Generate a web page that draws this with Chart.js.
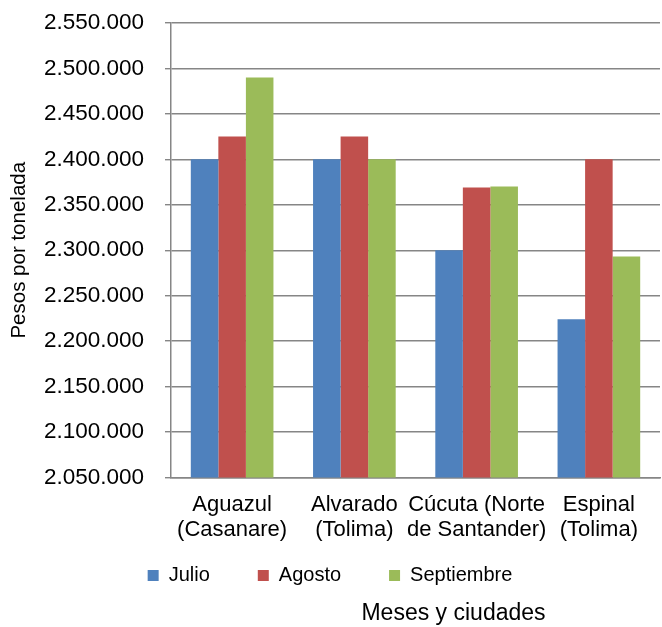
<html>
  <head>
    <meta charset="utf-8" />
    <script src="https://cdn.jsdelivr.net/npm/chart.js"></script>
    <style>
      body {
        margin: 0;
        background: #fff;
      }
      #wrap {
        width: 662px;
        height: 627px;
        position: relative;
      }
    </style>
  </head>
  <body>
    <div id="wrap">
      <canvas id="precio_chart"></canvas>
    </div>
    <script>
      // Ciudades (eje x), en dos lineas como en el original
      const ciudades = [
        ["Aguazul", "(Casanare)"],
        ["Alvarado", "(Tolima)"],
        ["Cúcuta (Norte", "de Santander)"],
        ["Espinal", "(Tolima)"],
      ];

      // Pesos por tonelada, por mes
      const julio = [2400000, 2400000, 2300000, 2224000];
      const agosto = [2425000, 2425000, 2369000, 2400000];
      const septiembre = [2490000, 2400000, 2370000, 2293000];

      // Eje y
      const y_min = 2050000;
      const y_max = 2550000;
      const y_step = 50000;

      // Formato con puntos de miles (2.550.000)
      function miles(v) {
        return String(v).replace(/\B(?=(\d{3})+(?!\d))/g, ".");
      }

      Chart.defaults.font.family = "'Liberation Sans', Arial, sans-serif";
      Chart.defaults.color = "#000";

      const gris = "#868686";

      // Ajustes de posicion: la leyenda empieza antes (su espaciado
      // ancho deja mucho hueco arriba) y el titulo del eje x va debajo
      // de la leyenda, algo a la derecha
      const ajustar_cajas = {
        id: "ajustar_cajas",
        afterLayout(chart) {
          const t = chart.titleBlock;
          if (t) {
            t.left += 38;
            t.right += 38;
          }
          const l = chart.legend;
          if (l) {
            l.top -= 40;
          }
        },
      };

      const precio_chart = new Chart("precio_chart", {
        type: "bar",
        data: {
          labels: ciudades,
          datasets: [
            { label: "Julio", data: julio, backgroundColor: "#4F81BD" },
            { label: "Agosto", data: agosto, backgroundColor: "#C0504D" },
            { label: "Septiembre", data: septiembre, backgroundColor: "#9BBB59" },
          ],
        },
        plugins: [ajustar_cajas],
        options: {
          responsive: true,
          maintainAspectRatio: false,
          animation: false,
          categoryPercentage: 0.676,
          barPercentage: 1.0,
          layout: {
            padding: { top: 23, right: 2, left: 0, bottom: 0 },
          },
          plugins: {
            legend: {
              display: true,
              position: "bottom",
              maxHeight: 42,
              labels: {
                boxWidth: 11,
                boxHeight: 11,
                padding: 48,
                font: { size: 20 },
              },
            },
            title: {
              display: true,
              position: "bottom",
              fullSize: false,
              text: "Meses y ciudades",
              font: { size: 23, weight: "normal" },
              padding: { top: 0, bottom: 0 },
            },
            tooltip: { enabled: false },
          },
          scales: {
            x: {
              grid: { display: false, drawTicks: false },
              border: { display: true, color: gris, width: 1.5 },
              ticks: {
                font: { size: 22, lineHeight: 1.18 },
                maxRotation: 0,
                autoSkip: false,
                padding: 14,
              },
            },
            y: {
              min: y_min,
              max: y_max,
              border: { display: true, color: gris, width: 1.5 },
              grid: {
                color: gris,
                lineWidth: 1.4,
                drawTicks: true,
                tickLength: 6,
                tickColor: gris,
              },
              ticks: {
                stepSize: y_step,
                font: { size: 22.5 },
                padding: 21,
                callback: (v) => miles(v),
              },
              title: {
                display: true,
                text: "Pesos por tonelada",
                font: { size: 20.5 },
                padding: { top: 7.5, bottom: 0 },
              },
              afterFit: (s) => {
                s.width = 171;
                s.paddingTop = 0;
                s.paddingBottom = 0;
              },
            },
          },
        },
      });
    </script>
  </body>
</html>
